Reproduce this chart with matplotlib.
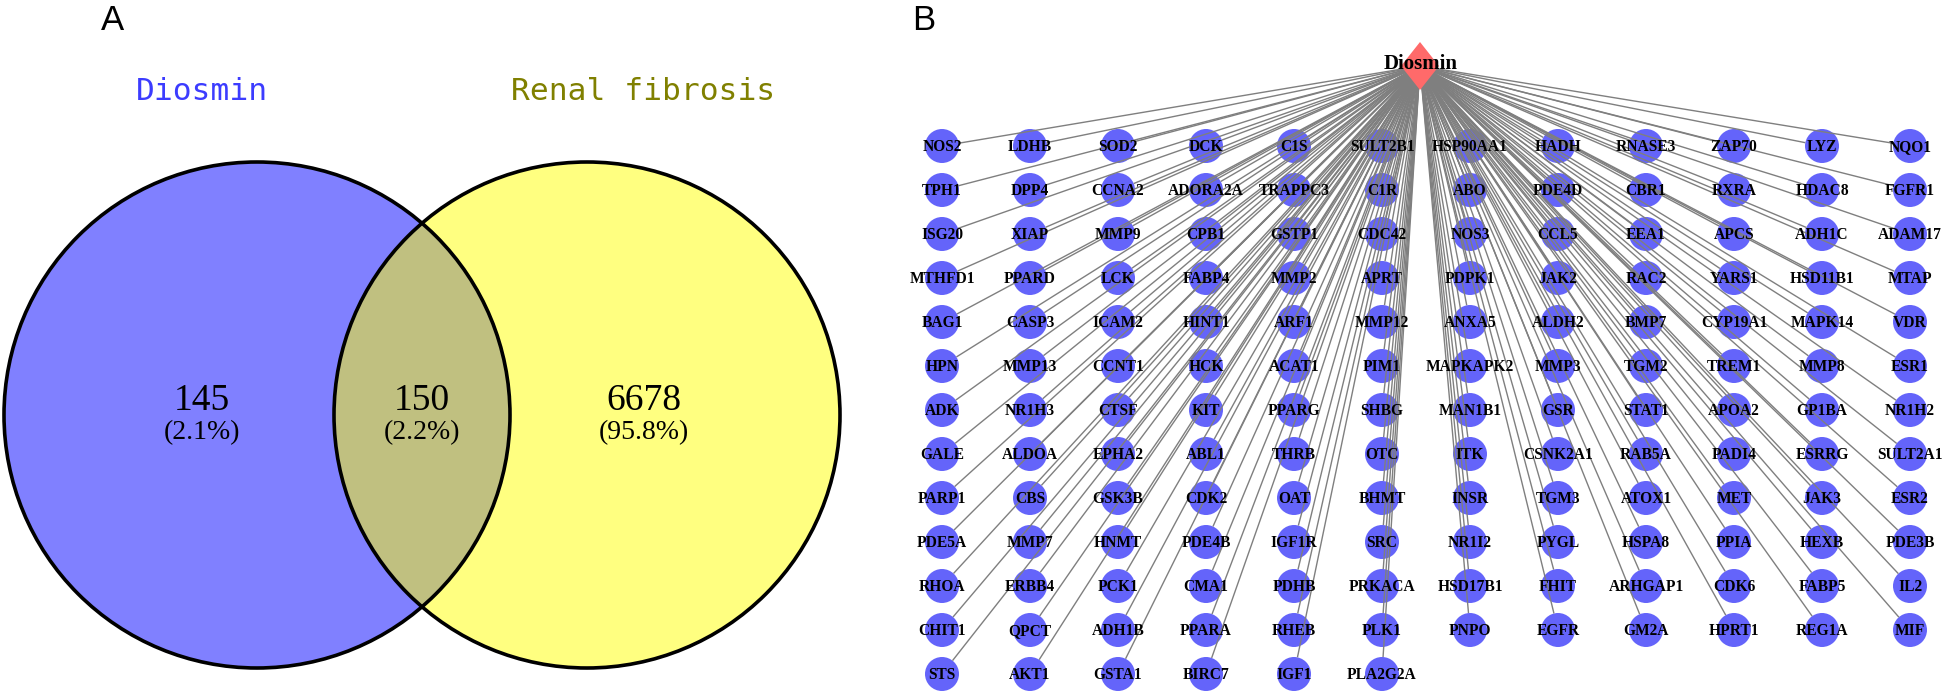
import numpy as np
import matplotlib
matplotlib.use("Agg")
import matplotlib.pyplot as plt
from matplotlib.patches import Circle, Polygon
from matplotlib.collections import LineCollection

W, H = 1944, 693

# ---- panel A data (venn) ----
set_names = ["Diosmin", "Renal fibrosis"]
set_colors = ["#8080FF", "#FFFF80"]
overlap_color = "#C0C080"
name_colors = ["#3C3CFF", "#808000"]
only_left = 145
shared = 150
only_right = 6678

# ---- panel B data (compound-target network), one list per column ----
hub = "Diosmin"
gene_cols = [
    ["NOS2", "TPH1", "ISG20", "MTHFD1", "BAG1", "HPN", "ADK", "GALE", "PARP1", "PDE5A", "RHOA", "CHIT1", "STS"],
    ["LDHB", "DPP4", "XIAP", "PPARD", "CASP3", "MMP13", "NR1H3", "ALDOA", "CBS", "MMP7", "ERBB4", "QPCT", "AKT1"],
    ["SOD2", "CCNA2", "MMP9", "LCK", "ICAM2", "CCNT1", "CTSF", "EPHA2", "GSK3B", "HNMT", "PCK1", "ADH1B", "GSTA1"],
    ["DCK", "ADORA2A", "CPB1", "FABP4", "HINT1", "HCK", "KIT", "ABL1", "CDK2", "PDE4B", "CMA1", "PPARA", "BIRC7"],
    ["C1S", "TRAPPC3", "GSTP1", "MMP2", "ARF1", "ACAT1", "PPARG", "THRB", "OAT", "IGF1R", "PDHB", "RHEB", "IGF1"],
    ["SULT2B1", "C1R", "CDC42", "APRT", "MMP12", "PIM1", "SHBG", "OTC", "BHMT", "SRC", "PRKACA", "PLK1", "PLA2G2A"],
    ["HSP90AA1", "ABO", "NOS3", "PDPK1", "ANXA5", "MAPKAPK2", "MAN1B1", "ITK", "INSR", "NR1I2", "HSD17B1", "PNPO"],
    ["HADH", "PDE4D", "CCL5", "JAK2", "ALDH2", "MMP3", "GSR", "CSNK2A1", "TGM3", "PYGL", "FHIT", "EGFR"],
    ["RNASE3", "CBR1", "EEA1", "RAC2", "BMP7", "TGM2", "STAT1", "RAB5A", "ATOX1", "HSPA8", "ARHGAP1", "GM2A"],
    ["ZAP70", "RXRA", "APCS", "YARS1", "CYP19A1", "TREM1", "APOA2", "PADI4", "MET", "PPIA", "CDK6", "HPRT1"],
    ["LYZ", "HDAC8", "ADH1C", "HSD11B1", "MAPK14", "MMP8", "GP1BA", "ESRRG", "JAK3", "HEXB", "FABP5", "REG1A"],
    ["NQO1", "FGFR1", "ADAM17", "MTAP", "VDR", "ESR1", "NR1H2", "SULT2A1", "ESR2", "PDE3B", "IL2", "MIF"],
]

fig = plt.figure(figsize=(W / 100, H / 100), dpi=100)
ax = fig.add_axes([0, 0, 1, 1])
ax.set_xlim(0, W)
ax.set_ylim(H, 0)
ax.axis("off")

# ---------------- A: venn ----------------
R = 253
cL = (257, 415)
cR = (587, 415)
left = Circle(cL, R, fc=set_colors[0], ec="none", zorder=1)
right = Circle(cR, R, fc=set_colors[1], ec="none", zorder=1)
ax.add_patch(left)
ax.add_patch(right)
mid = Circle(cR, R, fc=overlap_color, ec="none", zorder=2)
ax.add_patch(mid)
mid.set_clip_path(left)
for c in (cL, cR):
    ax.add_patch(Circle(c, R, fill=False, ec="black", lw=2.6, zorder=3))

total = only_left + shared + only_right
counts = [only_left, shared, only_right]
count_x = [202, 422, 644]
for x, n in zip(count_x, counts):
    ax.text(x, 401, str(n), ha="center", va="center", fontsize=27,
            family="Liberation Serif", zorder=4)
    ax.text(x, 433, "(%.1f%%)" % (100.0 * n / total), ha="center", va="center",
            fontsize=20, family="Liberation Serif", zorder=4)

ax.text(202, 91, set_names[0], ha="center", va="center", fontsize=22.5,
        family="DejaVu Sans Mono", color=name_colors[0])
ax.text(643, 91, set_names[1], ha="center", va="center", fontsize=22.5,
        family="DejaVu Sans Mono", color=name_colors[1])

ax.text(112, 20, "A", ha="center", va="center", fontsize=25, family="Liberation Sans")
ax.text(924, 20, "B", ha="center", va="center", fontsize=25, family="Liberation Sans")

# ---------------- B: network ----------------
hx, hy = 1420, 66
node_r = 17
x0, dx = 942, 88
y0, dy = 146, 44

xs, ys, names = [], [], []
for i, col in enumerate(gene_cols):
    for j, g in enumerate(col):
        xs.append(x0 + i * dx)
        ys.append(y0 + j * dy)
        names.append(g)
xs = np.array(xs, dtype=float)
ys = np.array(ys, dtype=float)

# edges end on the node border
vx = xs - hx
vy = ys - hy
d = np.hypot(vx, vy)
ex = xs - node_r * vx / d
ey = ys - node_r * vy / d
segs = [[(hx, hy), (a, b)] for a, b in zip(ex, ey)]
ax.add_collection(LineCollection(segs, colors="#7f7f7f", linewidths=1.0, zorder=6))

for x, y in zip(xs, ys):
    ax.add_patch(Circle((x, y), node_r, fc="#6464FA", ec="none", zorder=5))

for x, y, g in zip(xs, ys, names):
    ax.text(x, y + 1, g, ha="center", va="center", fontsize=11.2,
            family="Liberation Serif", weight="bold", zorder=8)

ax.add_patch(Polygon([(hx, hy - 24), (hx + 19, hy), (hx, hy + 24), (hx - 19, hy)],
                     closed=True, fc="#FF6A6A", ec="none", zorder=7))
ax.text(hx + 1, hy - 2, hub, ha="center", va="center", fontsize=15,
        family="Liberation Serif", weight="bold", zorder=8)

fig.savefig("out.png", dpi=100)
